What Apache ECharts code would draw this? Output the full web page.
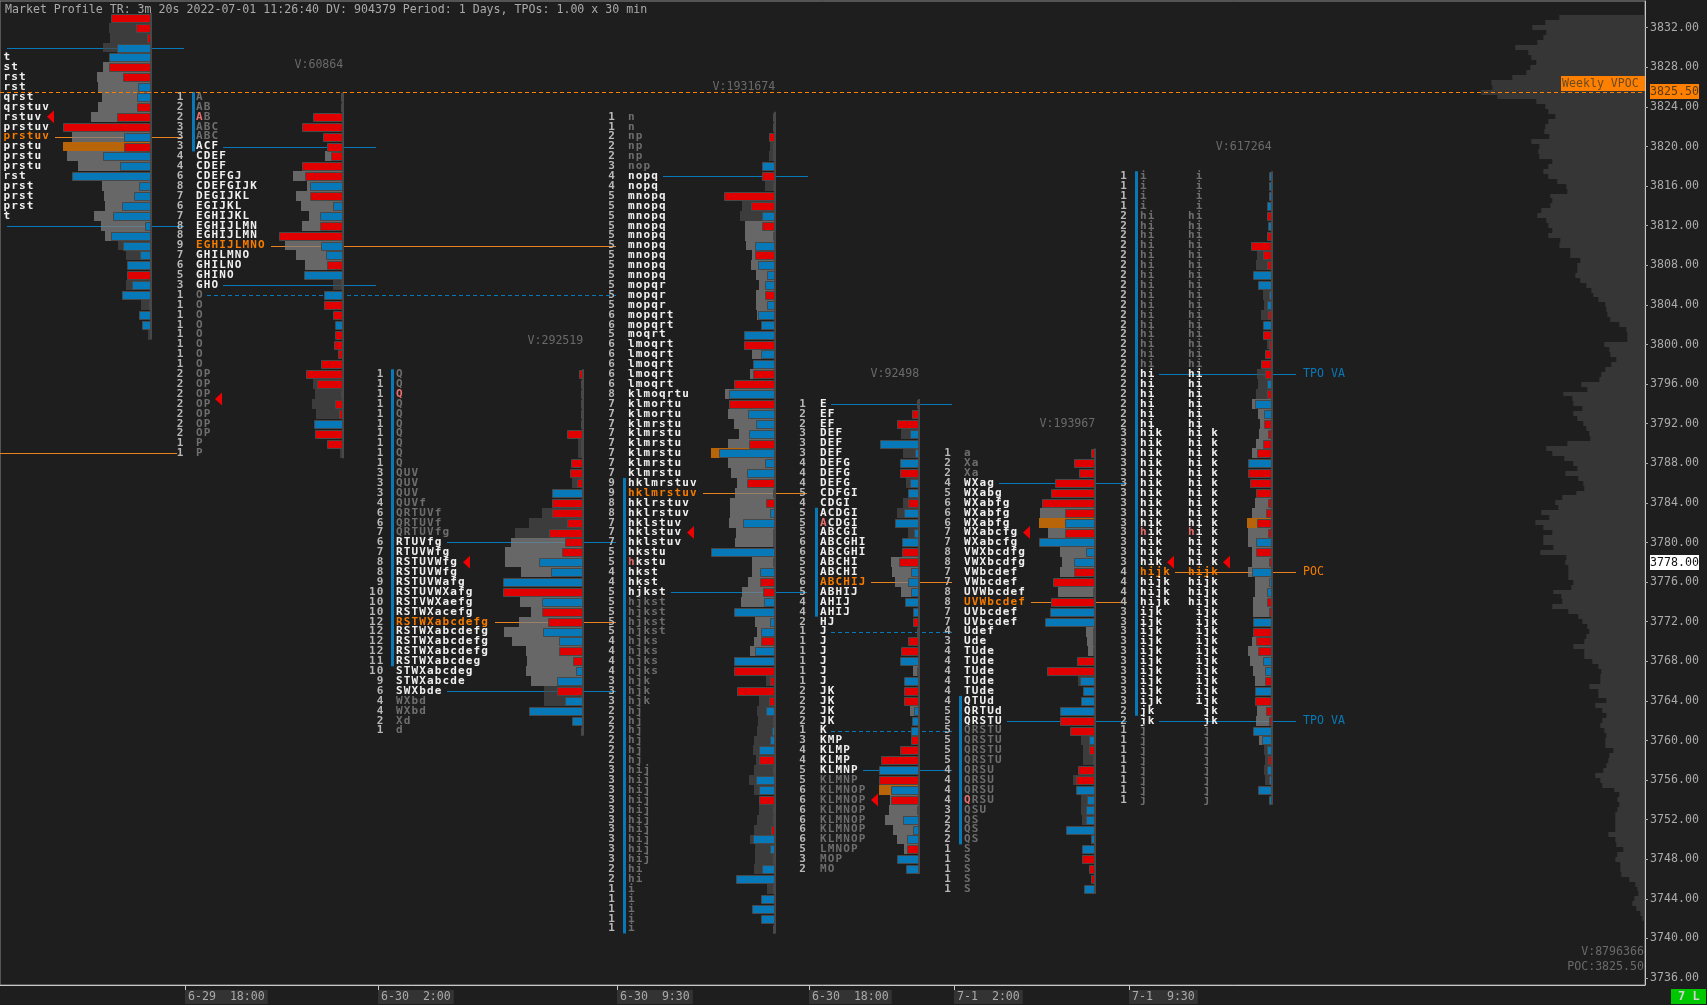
<!DOCTYPE html>
<html><head><meta charset="utf-8"><style>html,body{margin:0;padding:0;background:#1e1e1e}#c{width:1707px;height:1005px}</style>
<script src="https://cdn.jsdelivr.net/npm/echarts@6/dist/echarts.min.js"></script></head><body><div id="c"></div>
<script>
const titleText = "Market Profile TR: 3m 20s 2022-07-01 11:26:40 DV: 904379 Period: 1 Days, TPOs: 1.00 x 30 min";
const priceTicks = [3832,3828,3824,3820,3816,3812,3808,3804,3800,3796,3792,3788,3784,3780,3776,3772,3768,3764,3760,3756,3752,3748,3744,3740,3736];
const timeLabels = ["6-29  18:00","6-30  2:00","6-30  9:30","6-30  18:00","7-1  2:00","7-1  9:30"];
const timeSlots = [185,378,617,809,954,1129];

const p1Letters = ["","","","","t","st","rst","rst","qrst","qrstuv","rstuv","prstuv","prstuv","prstu","prstu","prstu","rst","prst","prst","prst","t","","","","","","","","","","","",""];
const p1Delta = [-39,-14,-3,33,41,-41,-27,12,13,-13,-33,-87,26,-26,47,30,78,11,16,28,37,5,39,27,10,23,-23,18,28,1,11,8,0];
const p1Volume = [0,41,40,47,0,47,53,52,48,52,59,0,78,87,83,72,0,48,46,45,56,49,45,32,24,0,0,24,0,9,0,0,2];

const p2Letters = ["A","AB","AB","ABC","ABC","ACF","CDEF","CDEF","CDEFGJ","CDEFGIJK","DEGIJKL","EGIJKL","EGHIJKL","EGHIJLMN","EGHIJLMN","EGHIJLMNO","GHILMNO","GHILNO","GHINO","GHO","O","O","O","O","O","O","O","O","OP","OP","OP","OP","OP","OP","OP","P","P"];
const p2Delta = [1,-1.5,-29,-40,-19,-15,-11,-40,-37,32,-32,9,22,-22,-63,21,16,-15,38,1,18,-18,-9,7,-7,-8,-4,-21,-36,-25,-1,-7,-3,28,-27,-15,0];
const p2Volume = [0,0,0,0,0,0,17,0,49,35,46,41,33,40,0,57,46,37,0,9,0,0,0,0,0,0,0,0,0,29,27,30,26,0,0,0,2];

const p3Letters = ["Q","Q","Q","Q","Q","Q","Q","Q","Q","Q","QUV","QUV","QUV","QUVf","QRTUVf","QRTUVf","QRTUVfg","RTUVfg","RTUVWfg","RSTUVWfg","RSTUVWfg","RSTUVWafg","RSTUVWXafg","RSTVWXaefg","RSTWXacefg","RSTWXabcdefg","RSTWXabcdefg","RSTWXabcdefg","RSTWXabcdefg","RSTWXabcdeg","STWXabcdeg","STWXabcde","SWXbde","WXbd","WXbd","Xd","d"];
const p3Delta = [-3,1.3,1,1,1,-1.5,-15,-1.5,-1.5,-11,-12,-5.5,30,-30,-30,-15,-33,-17,-20,43,31,79,-79,40,-40,-34,39,23,-23,-9,6,25,-25,17,53,10,1.5];
const p3Volume = [0,0,0,0,0,0,0,4,4,0,0,10,0,0,40,53,67,71,77,77,61,0,0,62,51,63,78,70,56,55,56,51,38,38,0,0,0];

const p4Letters = ["n","n","np","np","np","nop","nopq","nopq","mnopq","mnopq","mnopq","mnopq","mnopq","mnopq","mnopq","mnopq","mnopq","mopqr","mopqr","mopqr","mopqrt","mopqrt","moqrt","lmoqrt","lmoqrt","lmoqrt","lmoqrt","lmoqrt","klmoqrtu","klmortu","klmortu","klmrstu","klmrstu","klmrstu","klmrstu","klmrstu","klmrstu","hklmrstuv","hklmrstuv","hklrstuv","hklrstuv","hklstuv","hklstuv","hklstuv","hkstu","hkstu","hkst","hkst","hjkst","hjkst","hjkst","hjkst","hjkst","hjks","hjks","hjks","hjks","hjk","hjk","hjk","hj","hj","hj","hj","hj","hj","hij","hij","hij","hij","hij","hij","hij","hij","hij","hij","hi","hi","i","i","i","i","i"];
const p4Delta = [-1.7,-1.5,-5.5,-1.5,1.5,12,-12,-1.5,-50,-23,12,-12,1.5,19,-19,16,7,9,-9,7,16,13,30,-30,13,21,-21,-40,45,-45,26,18,25,-25,55,9,27,-27,-1.5,-8,4,31,1.5,1.5,63,1.5,14,-14,-11,10,40,4,13,-13,19,40,-40,-4,-37,-5,8,1.5,2.5,4,15,-15,-1.5,18,15,-15,-1.5,-1.5,-3,21,4,1.5,12,38,1.5,13,22,13,1.5];
const p4Volume = [0,0,0,4,5,0,0,9,0,32,34,29,29,28,22,23,18,15,18,18,17,0,0,0,22,0,24,0,49,0,46,40,35,46,63,46,43,37,39,44,44,45,38,39,0,22,22,26,32,33,0,19,17,20,24,0,0,8,0,15,17,16,17,20,21,18,20,25,20,0,15,17,20,24,19,19,20,0,7,0,0,0,0];

const p5Letters = ["E","EF","EF","DEF","DEF","DEF","DEFG","DEFG","DEFG","CDFGI","CDGI","ACDGI","ACDGI","ABCGI","ABCGHI","ABCGHI","ABCHI","ABCHI","ABCHIJ","ABHIJ","AHIJ","AHIJ","HJ","J","J","J","J","J","J","JK","JK","JK","JK","K","KMP","KLMP","KLMP","KLMNP","KLMNP","KLMNOP","KLMNOP","KLMNOP","KLMNOP","KLMNOP","KLMNOP","LMNOP","MOP","MO"];
const p5Delta = [-1.5,-6,-21,8,38,3,18,-18,8,10,-10,14,23,4,16,-16,-19,7,10,7,13,5,-5,-1,-10,-17,18,1.5,14,-14,-14,4,6,7,-7,-18,-37,39,-39,27,-27,-1.5,15,5,11,-11,21,12];
const p5Volume = [0,0,0,17,0,15,0,0,12,0,15,21,0,10,0,0,27,26,23,17,0,0,0,0,0,0,0,5,0,0,0,8,0,0,0,0,0,0,0,39,28,29,33,25,21,14,0,0];

const p6Letters = ["a","Xa","Xa","WXag","WXabg","WXabfg","WXabfg","WXabfg","WXabcfg","WXabcfg","VWXbcdfg","VWXbcdfg","VWbcdef","VWbcdef","UVWbcdef","UVWbcdef","UVbcdef","UVbcdef","Udef","Ude","TUde","TUde","TUde","TUde","TUde","QTUd","QRTUd","QRSTU","QRSTU","QRSTU","QRSTU","QRSTU","QRSU","QRSU","QRSU","QRSU","QSU","QS","QS","QS","S","S","S","S","S"];
const p6Delta = [-3,-20,-15,-39,-43,-52,-29,29,-29,55,8,20,-20,-41,-1,-43,44,49,1,-1,-1,-17,-47,14,11,13,34,-34,-24,5,-5,-1.5,-16,-18,18,7,8,8,28,3,12,-12,-5,-3,10];
const p6Volume = [0,0,0,0,0,0,54,55,46,0,34,32,34,0,36,0,0,0,8,7,6,0,0,16,0,0,0,0,0,13,11,11,0,21,0,13,13,12,0,0,0,0,0,0,0];

const p7Letters = ["i","i","i","i","hi","hi","hi","hi","hi","hi","hi","hi","hi","hi","hi","hi","hi","hi","hi","hi","hi","hi","hi","hi","hi","hi","hik","hik","hik","hik","hik","hik","hik","hik","hik","hik","hik","hik","hik","hik","hijk","hijk","hijk","hijk","ijk","ijk","ijk","ijk","ijk","ijk","ijk","ijk","ijk","ijk","jk","jk","j","j","j","j","j","j","j","j"];
const p7LettersSplit = [" i"," i"," i"," i","hi","hi","hi","hi","hi","hi","hi","hi","hi","hi","hi","hi","hi","hi","hi","hi","hi","hi","hi","hi","hi","hi","hi k","hi k","hi k","hi k","hi k","hi k","hi k","hi k","hi k","hi k","hi k","hi k","hi k","hi k","hijk","hijk","hijk","hijk"," ijk"," ijk"," ijk"," ijk"," ijk"," ijk"," ijk"," ijk"," ijk"," ijk","  jk","  jk","  j","  j","  j","  j","  j","  j","  j","  j"];
const p7Delta = [1.5,1.5,1.5,4,-4,3,-4,-20,-8,-4,18,13,1.5,4,-3,8,-8,-2,-6,-10,-6,4,-4,16,7,-7,-3,-8,-14,23,-23,-21,-15,-3,-5,-14,-3,15,-15,-2,19,1.5,4,-4,-1.5,18,-18,-15,-13,8,6,-6,16,-16,-5,-1.5,18,9,4,-3,4,1.5,13,1.5];
const p7Volume = [0,0,0,0,0,0,0,0,14,15,0,0,8,7,10,0,0,4,0,0,14,13,15,19,13,11,12,15,19,0,0,0,0,16,19,24,23,23,19,19,23,16,16,18,18,0,0,19,23,21,18,16,0,0,14,15,0,12,7,6,7,6,0,0];

const weeklyVolume = [85,99,112,98,101,107,129,116,113,108,114,118,132,153,152,163,147,108,99,96,89,96,99,100,95,113,105,106,105,92,96,101,96,87,78,77,94,92,94,103,107,98,96,92,96,84,85,74,74,64,67,67,69,64,58,53,51,46,
39,38,37,34,25,18,17,17,40,35,34,28,33,39,43,45,63,57,81,72,71,62,71,67,61,58,55,54,77,98,92,80,71,67,79,66,61,60,68,82,89,86,103,95,109,101,92,101,101,91,104,78,79,76,76,76,71,73,91,83,82,92,76,66,62,57,55,58,60,71,
60,60,52,46,43,44,44,55,46,46,38,49,42,38,42,44,40,38,39,39,31,35,36,38,41,49,44,42,30,25,27,25,27,29,29,29,29,36,29,28,21,27,29,24,24,23,15,9,7,6,10,12,8,4,2];
const weeklyTop = 3833;

// One record per session profile: prices and axis positions, arrays above hold the values
const profiles = [
 {top:3833,letters:p1Letters,delta:p1Delta,vol:p1Volume,anchor:150,numRight:null,lettersX:3,va:[3829,3812],light:[3828,3811],poc:3821,volPoc:3820,open:null,arrow:[47,3823],volLabel:null},
 {top:3825,letters:p2Letters,delta:p2Delta,vol:p2Volume,anchor:342.3,numRight:184,lettersX:195.5,va:[3820,3806],light:[3819,3807],poc:3810,volPoc:null,open:3823,arrow:[215,3794.5],ib:[192,3825,3820],volLabel:["V:60864",3828.2]},
 {top:3797,letters:p3Letters,delta:p3Delta,vol:p3Volume,anchor:582.3,numRight:384,lettersX:395.5,va:[3780,3765],light:[3780,3766],poc:3772,volPoc:null,open:3795,arrow:[463,3778],ib:[391,3797,3768],volLabel:["V:292519",3800.4]},
 {top:3823,letters:p4Letters,delta:p4Delta,vol:p4Volume,anchor:774.3,numRight:615.5,lettersX:627.5,va:[3817,3775],light:[3812,3767],poc:3785,volPoc:3789,open:3778,arrow:[687,3781],ib:[623,3786,3741],volLabel:["V:1931674",3826]},
 {top:3794,letters:p5Letters,delta:p5Delta,vol:p5Volume,anchor:918.3,numRight:806.5,lettersX:819.5,va:[3794,3757],light:[3778,3749],poc:3776,volPoc:3755,open:3782,arrow:[871,3754],ib:[815,3783,3773],volLabel:["V:92498",3797]},
 {top:3789,letters:p6Letters,delta:p6Delta,vol:p6Volume,anchor:1094.3,numRight:951.5,lettersX:963.5,va:[3786,3762],light:[3783,3767],poc:3774,volPoc:3782,open:3754,arrow:[1023,3781],ib:[959,3764,3750],volLabel:["V:193967",3792]},
 {top:3817,letters:p7Letters,split:p7LettersSplit,delta:p7Delta,vol:p7Volume,anchor:1270.7,numRight:1127.5,lettersX:1139.5,splitX:1187.5,va:[3797,3762],light:[3794,3760],poc:3777,volPoc:3782,open:3781,arrow:[1167,3778],arrow2:[1223,3778],ib:[1135,3817,3763],volLabel:["V:617264",3820]}
];

const BLUE="#0779b8",RED="#e00000",ORANGE="#f57c00",LINEORANGE="#e8821e";
const refLines = [
 [3830,7,184,BLUE,0],[3812,7,184,BLUE,0],[3821,55,183,LINEORANGE,0],[3789,0,177,LINEORANGE,0],
 [3820,223,376,BLUE,0],[3806,223,376,BLUE,0],[3810,271,616,LINEORANGE,0],[3805,207,616,BLUE,1],
 [3780,447,616,BLUE,0],[3772,495,616,LINEORANGE,0],[3765,447,616,BLUE,0],
 [3817,663,808,BLUE,0],[3785,703,807,LINEORANGE,0],[3775,671,807,BLUE,0],
 [3794,831,952,BLUE,0],[3776,871,952,LINEORANGE,0],[3771,831,952,BLUE,1],[3761,831,952,BLUE,1],[3757,863,952,BLUE,0],
 [3786,999,1127,BLUE,0],[3774,1031,1127,LINEORANGE,0],[3762,1007,1127,BLUE,0],
 [3797,1159,1296,BLUE,0],[3777,1175,1296,LINEORANGE,0],[3762,1159,1296,BLUE,0]
];
const sideLabels = [["TPO VA",1303,3797,BLUE],["POC",1303,3777,ORANGE],["TPO VA",1303,3762,BLUE]];
const vpocPrice = 3825.5, lastPrice = 3778;

const MONO='"DejaVu Sans Mono"';
const fontSmall='11.6px '+MONO, fontTpo='bold 11px '+MONO;
const PITCH=7.75;

const gray=[],bars=[],texts=[],cells=[],spines=[],arrows=[];
profiles.forEach(p=>{
  p.delta.forEach((d,i)=>{
    const price=p.top-i, v=p.vol[i];
    if(v>0) gray.push({x:p.anchor,price,len:v,kind:price===p.volPoc?'poc':(price<=p.light[0]&&price>=p.light[1]?'light':'dark')});
    if(d!==0) bars.push({x:p.anchor,price,len:Math.abs(d),fill:d>0?BLUE:RED});
    const l=p.letters[i];
    const tone=price===p.poc?ORANGE:(price<=p.va[0]&&price>=p.va[1]?'#f0f0f0':'#6e6e6e');
    if(l){
      const isOpen=price===p.open;
      cells.push({x:p.lettersX,price,text:l,fill:tone,first:isOpen?'#e87070':null});
      if(p.split) cells.push({x:p.splitX,price,text:p.split[i],fill:tone,first:isOpen?'#e87070':null});
      if(p.numRight){
        const n=String(l.replace(/ /g,'').length);
        cells.push({x:p.numRight-n.length*PITCH,price,text:n,fill:'#b8b8b8',first:null});
      }
    }
  });
  spines.push({x:p.anchor,top:p.top,bottom:p.top-p.delta.length+1,kind:'spine'});
  if(p.ib) spines.push({x:p.ib[0],top:p.ib[1],bottom:p.ib[2],kind:'ib'});
  arrows.push({x:p.arrow[0],price:p.arrow[1]});
  if(p.arrow2) arrows.push({x:p.arrow2[0],price:p.arrow2[1]});
  if(p.volLabel) texts.push({x:p.anchor+1,price:p.volLabel[1],text:p.volLabel[0],fill:'#6a6a6a',font:fontSmall,align:'right'});
});
sideLabels.forEach(s=>texts.push({x:s[1],price:s[2],text:s[0],fill:s[3],font:fontSmall,align:'left'}));
texts.push({x:1644,price:3738.65,text:"V:8796366",fill:'#6a6a6a',font:fontSmall,align:'right'});
texts.push({x:1644,price:3737.15,text:"POC:3825.50",fill:'#6a6a6a',font:fontSmall,align:'right'});

const weekly=weeklyVolume.map((v,i)=>({price:weeklyTop-i*0.5,len:v}));

function layer(rows,render,z){
  return {type:'custom',coordinateSystem:'cartesian2d',z:z,silent:true,animation:false,
    encode:{x:0,y:1},data:rows.map((r,i)=>[r.x||0,r.price||r.top||r[0],i]),
    renderItem:(params,api)=>render(rows[params.dataIndex],api)};
}
function band(c1,h){const t=Math.round(c1-h/2),b=Math.round(c1+h/2);return [t,b-t];}
const grayFill={light:'rgba(128,128,128,.75)',dark:'rgba(72,72,72,.7)',poc:'#b8650a'};
const series=[
 layer(weekly,(r,api)=>{
   const c=api.coord([1644.3,r.price]),w=api.size([r.len,0])[0],h=api.size([0,0.5])[1],b=band(c[1],h);
   return {type:'rect',shape:{x:c[0]-w,y:b[0],width:w,height:b[1]},style:{fill:'#363636'}};
 },1),
 layer(refLines.map(l=>({price:l[0],x:l[1],x2:l[2],color:l[3],dash:l[4]})),(r,api)=>{
   const a=api.coord([r.x,r.price]),b=api.coord([r.x2,r.price]);
   return {type:'line',shape:{x1:a[0],y1:Math.round(a[1])+.5,x2:b[0],y2:Math.round(a[1])+.5},style:{stroke:r.color,lineWidth:1,lineDash:r.dash?[4,3]:null}};
 },2),
 layer(gray,(r,api)=>{
   const c=api.coord([r.x,r.price]),w=api.size([r.len,0])[0],h=api.size([0,1])[1],b=band(c[1],h);
   const l=Math.round(c[0]-w);
   return {type:'rect',shape:{x:l,y:b[0],width:Math.round(c[0])-l,height:b[1]},style:{fill:grayFill[r.kind]}};
 },3),
 layer(bars,(r,api)=>{
   const c=api.coord([r.x,r.price]),w=api.size([r.len,0])[0];
   const l=Math.round(c[0]-w)+.5,t=Math.round(c[1]-4)+.5;
   return {type:'rect',shape:{x:l,y:t,width:Math.max(1,Math.round(c[0])+.5-l),height:8},style:{fill:r.fill,stroke:'#484848',lineWidth:1}};
 },4),
 layer(spines,(r,api)=>{
   const a=api.coord([r.x,r.top]),b=api.coord([r.x,r.bottom]);
   const h=b[1]-a[1]+api.size([0,1])[1];
   return r.kind==='spine'
     ?{type:'rect',shape:{x:Math.round(a[0]),y:a[1]-5,width:2,height:h},style:{fill:'#484848'}}
     :{type:'rect',shape:{x:Math.round(a[0]),y:a[1]-5,width:3,height:h},style:{fill:BLUE}};
 },5),
 layer(arrows,(r,api)=>{
   const c=api.coord([r.x,r.price]);
   return {type:'polygon',shape:{points:[[c[0],c[1]],[c[0]+7,c[1]-6.5],[c[0]+7,c[1]+6.5]]},style:{fill:'#f00000'}};
 },6),
 layer(texts,(r,api)=>{
   const c=api.coord([r.x,r.price]);
   return {type:'text',style:{text:r.text,x:c[0],y:c[1],fill:r.fill,font:r.font,align:r.align,verticalAlign:'middle'}};
 },7),
 layer(cells,(r,api)=>{
   const c=api.coord([r.x,r.price]);
   const kids=[];
   for(let i=0;i<r.text.length;i++){
     if(r.text[i]===' ')continue;
     kids.push({type:'text',style:{text:r.text[i],x:c[0]+PITCH*(i+.5),y:c[1],fill:(i===0&&r.first)?r.first:r.fill,font:fontTpo,align:'center',verticalAlign:'middle'}});
   }
   return {type:'group',children:kids};
 },7),
 layer([{price:vpocPrice,x:0}],(r,api)=>{
   const a=api.coord([0,r.price]),b=api.coord([1645,r.price]);
   const y=Math.round(a[1]);
   return {type:'group',children:[
     {type:'rect',shape:{x:b[0]-84,y:y-16,width:84,height:15},style:{fill:'#ff8000'}},
     {type:'text',style:{text:'Weekly VPOC',x:b[0]-83,y:y-8,fill:'#6a4a20',font:fontSmall,align:'left',verticalAlign:'middle'}},
     {type:'line',shape:{x1:a[0],y1:y+.5,x2:b[0],y2:y+.5},style:{stroke:'#ff8000',lineWidth:1,lineDash:[4,3]}},
     {type:'rect',shape:{x:b[0]+5,y:y-8,width:49,height:15},style:{fill:'#ff8000'}},
     {type:'text',style:{text:r.price.toFixed(2),x:b[0]+5,y:y,fill:'#5a3a10',font:fontSmall,align:'left',verticalAlign:'middle'}}
   ]};
 },8),
 layer([{price:lastPrice,x:0}],(r,api)=>{
   const b=api.coord([1645,r.price]);
   const y=Math.round(b[1]);
   return {type:'group',children:[
     {type:'rect',shape:{x:b[0]+5,y:y-7,width:49,height:15},style:{fill:'#ffffff'}},
     {type:'text',style:{text:r.price.toFixed(2),x:b[0]+5,y:y+.5,fill:'#111',font:fontSmall,align:'left',verticalAlign:'middle'}}
   ]};
 },8)
];

const chart=echarts.init(document.getElementById('c'),null,{renderer:'canvas'});
chart.setOption({
 backgroundColor:'#1e1e1e',animation:false,
 title:{text:titleText,left:0,top:-1,textStyle:{color:'#aaaaaa',fontFamily:MONO,fontSize:11.6,fontWeight:'normal'}},
 grid:{left:0,right:62,top:1,bottom:20,show:true,borderColor:'#8a8a8a',borderWidth:1,backgroundColor:'transparent'},
 xAxis:{type:'value',min:0,max:1645,splitLine:{show:false},
   axisLine:{show:true,lineStyle:{color:'#c8c8c8',width:1}},
   axisTick:{show:true,length:5,customValues:timeSlots,lineStyle:{color:'#c8c8c8'}},
   axisLabel:{show:true,customValues:timeSlots,margin:5,align:'left',color:'#aaaaaa',fontFamily:MONO,fontSize:11.6,backgroundColor:'#333333',padding:[1,3,1,3],
     formatter:v=>timeLabels[timeSlots.indexOf(v)]||''}},
 yAxis:{type:'value',position:'right',min:3735.3,max:3834.7,splitLine:{show:false},
   axisLine:{show:true,onZero:false,lineStyle:{color:'#c8c8c8',width:1}},
   axisTick:{show:true,length:3,customValues:priceTicks,lineStyle:{color:'#aaaaaa'}},
   axisLabel:{show:true,customValues:priceTicks,margin:5,color:'#aaaaaa',fontFamily:MONO,fontSize:11.6,formatter:v=>v.toFixed(2)}},
 graphic:[
  {type:'rect',left:1671,top:989,shape:{width:35,height:15},style:{fill:'#00c800'},silent:true},
  {type:'text',left:1678,top:991,style:{text:'7 L',fill:'#d0d0d0',font:'bold 12px '+MONO},silent:true}
 ],
 series:series
});
</script></body></html>
